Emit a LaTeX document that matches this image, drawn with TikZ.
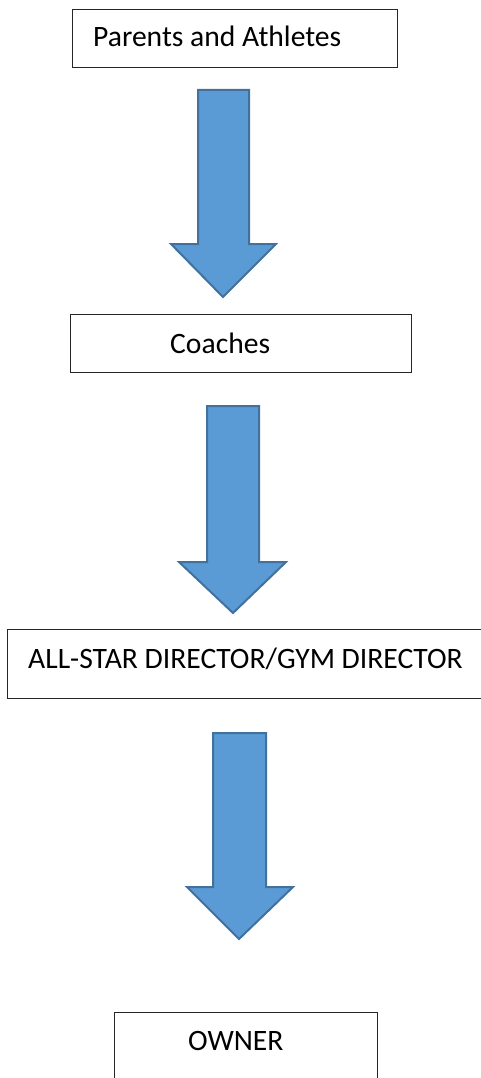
\documentclass[tikz,border=0pt]{standalone}
\usepackage{fontspec}
\setmainfont{Carlito}
\definecolor{arrowfill}{HTML}{5B9BD5}
\definecolor{arrowedge}{HTML}{41719C}
\begin{document}
\begin{tikzpicture}[x=1pt,y=-1pt,
  box/.style={draw=black!85,line width=1.4pt,fill=white,inner sep=0pt},
  label/.style={anchor=base west,inner sep=0pt,font=\fontsize{29.6}{34}\selectfont},
  blockarrow/.style={fill=arrowfill,draw=arrowedge,line width=2pt,line join=miter}]
\useasboundingbox (0,0) rectangle (481,1078);
\clip (0,0) rectangle (481,1078);
% boxes
\node[box,minimum width=325pt,minimum height=58pt,anchor=north west] (b1) at (72,9) {};
\node[box,minimum width=341pt,minimum height=58pt,anchor=north west] (b2) at (70,314) {};
\node[box,minimum width=490pt,minimum height=69pt,anchor=north west] (b3) at (7,629) {};
\node[box,minimum width=263pt,minimum height=90pt,anchor=north west] (b4) at (114,1012) {};
% texts
\node[label] (t1) at (93,47) {Parents and Athletes};
\node[label] (t2) at (170,353) {Coaches};
\node[label] (t3) at (28,668) {ALL-STAR DIRECTOR/GYM DIRECTOR};
\node[label] (t4) at (188,1050) {OWNER};
% block arrows
\draw[blockarrow] (198,90) -- (249,90) -- (249,244) -- (276,244) -- (223,297) -- (171,244) -- (198,244) -- cycle;
\draw[blockarrow] (207,406) -- (259,406) -- (259,562) -- (286,562) -- (233,613) -- (179,562) -- (207,562) -- cycle;
\draw[blockarrow] (213,733) -- (266,733) -- (266,887) -- (293,887) -- (239,939) -- (187,887) -- (213,887) -- cycle;
\end{tikzpicture}
\end{document}
